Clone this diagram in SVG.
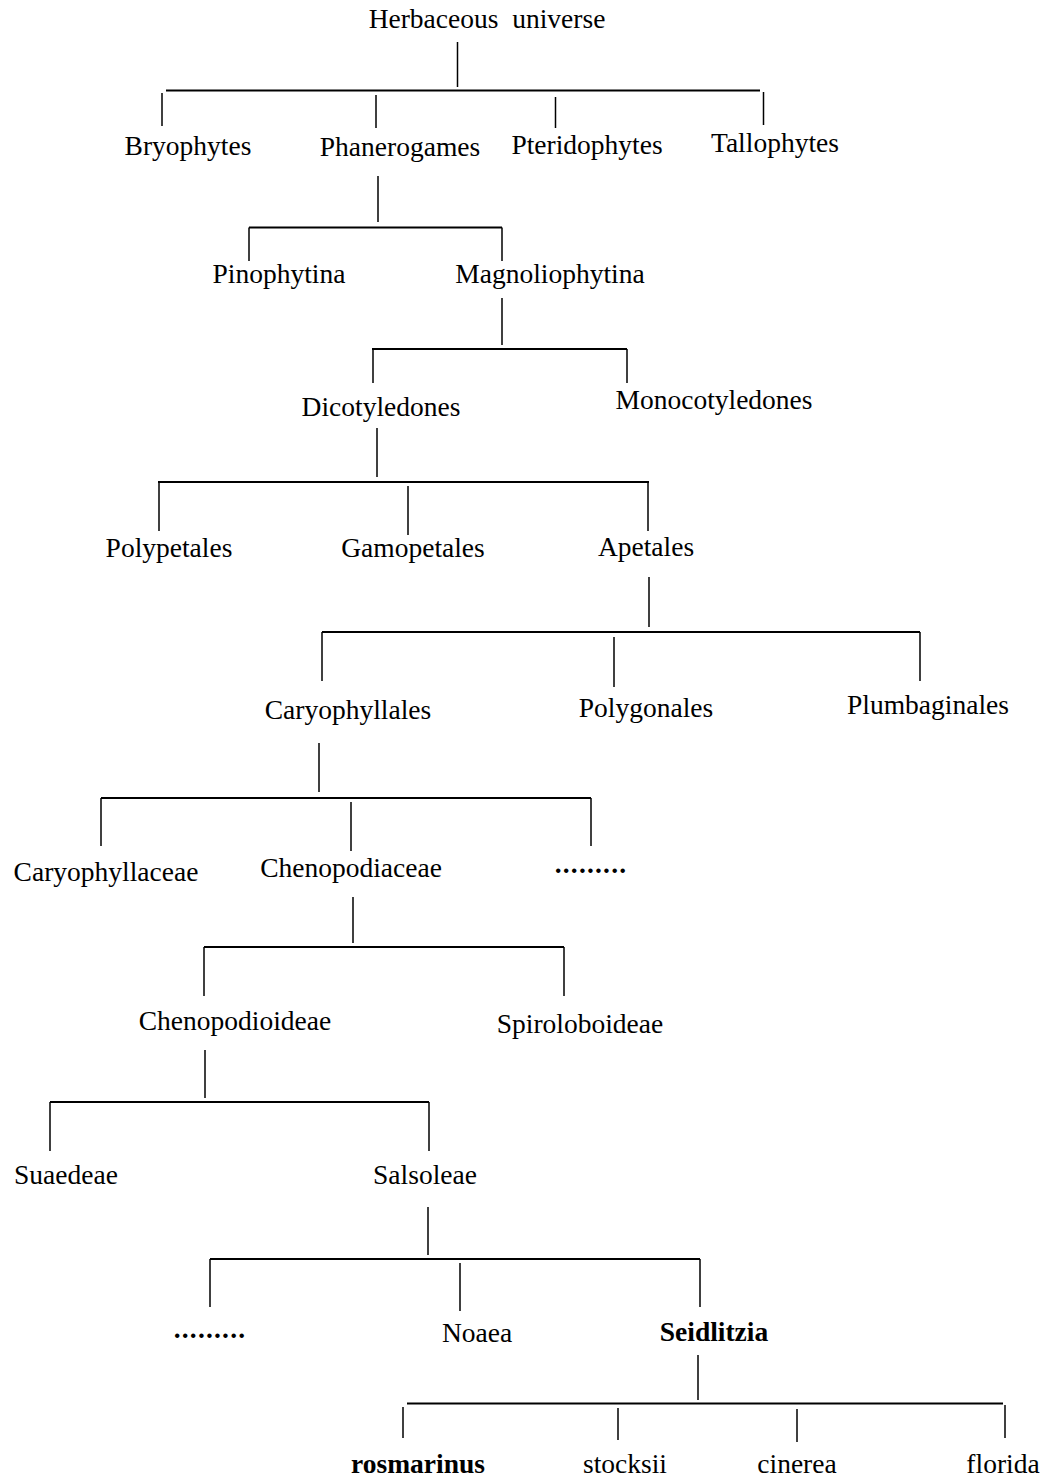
<svg xmlns="http://www.w3.org/2000/svg" width="1049" height="1478" viewBox="0 0 1049 1478">
<style>
text{font-family:"Liberation Serif","Times New Roman",serif;font-size:27.5px;fill:#000;text-anchor:middle}
.b{font-weight:bold}
.d{font-weight:bold;letter-spacing:1.2px}
#connectors line{stroke:#000;stroke-width:1.5;fill:none}
#connectors line.h{stroke-width:2}
</style>
<rect width="1049" height="1478" fill="#fff"/>
<g id="connectors">
<line x1="457.5" y1="42" x2="457.5" y2="87"/>
<line class="h" x1="166" y1="90.5" x2="760" y2="90.5"/>
<line x1="162" y1="93" x2="162" y2="126"/>
<line x1="376" y1="95" x2="376" y2="128"/>
<line x1="555.5" y1="97" x2="555.5" y2="128"/>
<line x1="763.5" y1="92" x2="763.5" y2="125"/>

<line x1="378" y1="176" x2="378" y2="222"/>
<line class="h" x1="249" y1="227.5" x2="502" y2="227.5"/>
<line x1="249" y1="227.5" x2="249" y2="261"/>
<line x1="502" y1="227.5" x2="502" y2="261"/>

<line x1="502" y1="298" x2="502" y2="345"/>
<line class="h" x1="372" y1="349" x2="627" y2="349"/>
<line x1="373" y1="349" x2="373" y2="383"/>
<line x1="627" y1="349" x2="627" y2="383"/>

<line x1="377" y1="428" x2="377" y2="477"/>
<line class="h" x1="158" y1="482" x2="649" y2="482"/>
<line x1="159" y1="482" x2="159" y2="531"/>
<line x1="408" y1="486" x2="408" y2="535"/>
<line x1="648" y1="482" x2="648" y2="531"/>

<line x1="649" y1="577" x2="649" y2="627"/>
<line class="h" x1="322" y1="632" x2="920" y2="632"/>
<line x1="322" y1="632" x2="322" y2="681"/>
<line x1="614" y1="637" x2="614" y2="687"/>
<line x1="920" y1="632" x2="920" y2="681"/>

<line x1="319" y1="743" x2="319" y2="792"/>
<line class="h" x1="101" y1="798" x2="591" y2="798"/>
<line x1="101" y1="798" x2="101" y2="846"/>
<line x1="351" y1="802" x2="351" y2="851"/>
<line x1="591" y1="798" x2="591" y2="846"/>

<line x1="353" y1="897" x2="353" y2="943"/>
<line class="h" x1="204" y1="947" x2="564" y2="947"/>
<line x1="204" y1="947" x2="204" y2="996"/>
<line x1="564" y1="947" x2="564" y2="996"/>

<line x1="205" y1="1050" x2="205" y2="1098"/>
<line class="h" x1="50" y1="1102" x2="429" y2="1102"/>
<line x1="50" y1="1102" x2="50" y2="1151"/>
<line x1="429" y1="1102" x2="429" y2="1151"/>

<line x1="428" y1="1207" x2="428" y2="1255"/>
<line class="h" x1="210" y1="1259" x2="700" y2="1259"/>
<line x1="210" y1="1259" x2="210" y2="1307"/>
<line x1="460" y1="1263" x2="460" y2="1311"/>
<line x1="700" y1="1259" x2="700" y2="1307"/>

<line x1="698" y1="1355" x2="698" y2="1400"/>
<line class="h" x1="407" y1="1403.5" x2="1003" y2="1403.5"/>
<line x1="403" y1="1407" x2="403" y2="1438"/>
<line x1="618" y1="1408" x2="618" y2="1440"/>
<line x1="797" y1="1409" x2="797" y2="1442"/>
<line x1="1005" y1="1405" x2="1005" y2="1438"/>
</g>

<g id="n-herbaceous"><text x="487" y="28" xml:space="preserve">Herbaceous  universe</text></g>
<g id="n-bryophytes"><text x="188" y="155">Bryophytes</text></g>
<g id="n-phanerogames"><text x="400" y="156">Phanerogames</text></g>
<g id="n-pteridophytes"><text x="587" y="154">Pteridophytes</text></g>
<g id="n-tallophytes"><text x="775" y="152">Tallophytes</text></g>
<g id="n-pinophytina"><text x="279" y="283">Pinophytina</text></g>
<g id="n-magnoliophytina"><text x="550" y="283">Magnoliophytina</text></g>
<g id="n-dicotyledones"><text x="381" y="416">Dicotyledones</text></g>
<g id="n-monocotyledones"><text x="714" y="409">Monocotyledones</text></g>
<g id="n-polypetales"><text x="169" y="557">Polypetales</text></g>
<g id="n-gamopetales"><text x="413" y="557">Gamopetales</text></g>
<g id="n-apetales"><text x="646" y="556">Apetales</text></g>
<g id="n-caryophyllales"><text x="348" y="719">Caryophyllales</text></g>
<g id="n-polygonales"><text x="646" y="717">Polygonales</text></g>
<g id="n-plumbaginales"><text x="928" y="714">Plumbaginales</text></g>
<g id="n-caryophyllaceae"><text x="106" y="881">Caryophyllaceae</text></g>
<g id="n-chenopodiaceae"><text x="351" y="877">Chenopodiaceae</text></g>
<g id="n-dots1"><text class="d" x="591" y="873">.........</text></g>
<g id="n-chenopodioideae"><text x="235" y="1030">Chenopodioideae</text></g>
<g id="n-spiroloboideae"><text x="580" y="1033">Spiroloboideae</text></g>
<g id="n-suaedeae"><text x="66" y="1184">Suaedeae</text></g>
<g id="n-salsoleae"><text x="425" y="1184">Salsoleae</text></g>
<g id="n-dots2"><text class="d" x="210" y="1338">.........</text></g>
<g id="n-noaea"><text x="477" y="1342">Noaea</text></g>
<g id="n-seidlitzia"><text class="b" x="714" y="1341">Seidlitzia</text></g>
<g id="n-rosmarinus"><text class="b" x="418" y="1473">rosmarinus</text></g>
<g id="n-stocksii"><text x="625" y="1473">stocksii</text></g>
<g id="n-cinerea"><text x="797" y="1473">cinerea</text></g>
<g id="n-florida"><text x="1003" y="1473">florida</text></g>
</svg>
